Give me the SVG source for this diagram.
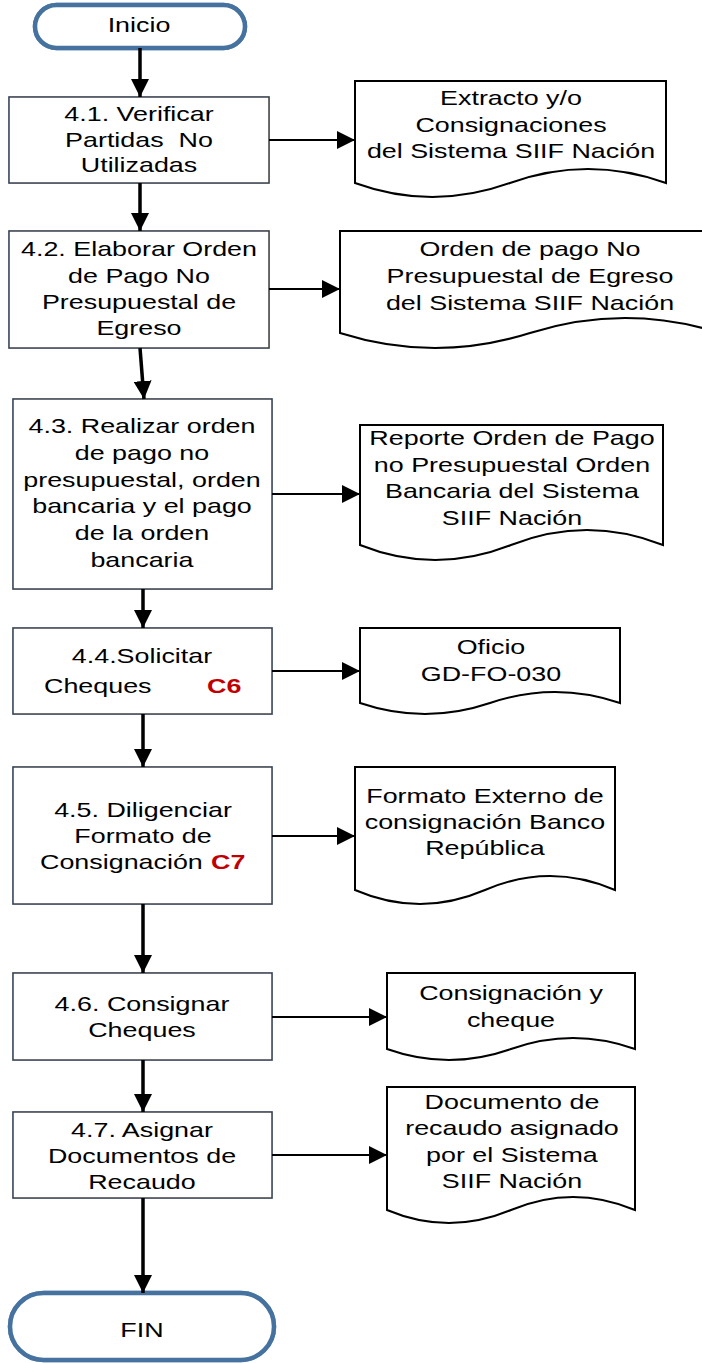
<svg xmlns="http://www.w3.org/2000/svg" width="702" height="1363" viewBox="0 0 702 1363">
<style>
text{font-family:"Liberation Sans",Arial,sans-serif;font-size:21px;fill:#000;text-anchor:middle;transform-box:fill-box;transform-origin:50% 50%;transform:scaleX(1.28)}
.box{fill:#fff;stroke:#404040;stroke-width:1.5;filter:url(#sh)}
.doc{fill:#fff;stroke:#000;stroke-width:2}
.term{fill:#fff;stroke:#44729f;stroke-width:4.5;filter:url(#sh)}
.v{stroke:#000;stroke-width:3.5;fill:none;marker-end:url(#ah)}
.h{stroke:#000;stroke-width:2;fill:none;marker-end:url(#ah)}
text.red{fill:#c00000;font-weight:bold;text-anchor:start;transform-origin:0% 50%}
text.st{text-anchor:start;transform-origin:0% 50%}
</style>
<defs>
<marker id="ah" markerUnits="userSpaceOnUse" markerWidth="18" markerHeight="18" refX="18" refY="9" orient="auto"><path d="M0,0 L18,9 L0,18 z" fill="#000"/></marker>
<filter id="sh" x="-10%" y="-10%" width="125%" height="130%"><feGaussianBlur in="SourceAlpha" stdDeviation="3"/><feOffset dx="2" dy="4"/><feComponentTransfer><feFuncA type="linear" slope="0.22"/></feComponentTransfer><feFlood flood-color="#6f8fc0"/><feComposite operator="in" in2="SourceGraphic"/><feMerge><feMergeNode/><feMergeNode in="SourceGraphic"/></feMerge></filter>
</defs>

<g id="inicio"><rect class="term" x="35" y="5" width="210" height="43" rx="21.5"/><text x="139" y="32">Inicio</text></g>

<g id="n41"><rect class="box" x="9" y="97" width="260" height="86"/>
<text x="139" y="121">4.1. Verificar</text><text x="139" y="147" xml:space="preserve">Partidas  No</text><text x="139" y="172">Utilizadas</text></g>
<g id="d1"><path class="doc" d="M355,81 H666 V183 Q588,155 510,183 T355,183 Z"/>
<text x="511" y="105">Extracto y/o</text><text x="511" y="132">Consignaciones</text><text x="511" y="158">del Sistema SIIF Nación</text></g>

<g id="n42"><rect class="box" x="9" y="231" width="260" height="117"/>
<text x="139" y="256">4.2. Elaborar Orden</text><text x="139" y="283">de Pago No</text><text x="139" y="309">Presupuestal de</text><text x="139" y="335">Egreso</text></g>
<g id="d2"><path class="doc" d="M340,231 H720 V333 Q625,303 530,333 T340,333 Z"/>
<text x="530" y="256">Orden de pago No</text><text x="530" y="283">Presupuestal de Egreso</text><text x="530" y="310">del Sistema SIIF Nación</text></g>

<g id="n43"><rect class="box" x="13" y="399" width="259" height="190"/>
<text x="142" y="433">4.3. Realizar orden</text><text x="142" y="460">de pago no</text><text x="142" y="487">presupuestal, orden</text><text x="142" y="513">bancaria y el pago</text><text x="142" y="540">de la orden</text><text x="142" y="567">bancaria</text></g>
<g id="d3"><path class="doc" d="M360,425 H663 V545 Q587,515 511,545 T360,545 Z"/>
<text x="512" y="445">Reporte Orden de Pago</text><text x="512" y="472">no Presupuestal Orden</text><text x="512" y="498">Bancaria del Sistema</text><text x="512" y="525">SIIF Nación</text></g>

<g id="n44"><rect class="box" x="13" y="628" width="259" height="86"/>
<text x="142" y="663">4.4.Solicitar</text><text class="st" x="44" y="693">Cheques</text><text class="red" x="207" y="693">C6</text></g>
<g id="d4"><path class="doc" d="M360,628 H620 V703 Q555,681 490,703 T360,703 Z"/>
<text x="491" y="654">Oficio</text><text x="491" y="681">GD-FO-030</text></g>

<g id="n45"><rect class="box" x="13" y="767" width="259" height="137"/>
<text x="143" y="817">4.5. Diligenciar</text><text x="143" y="843">Formato de</text><text class="st" x="40" y="869">Consignación</text><text class="red" x="211" y="869">C7</text></g>
<g id="d5"><path class="doc" d="M355,767 H615 V890 Q550,862 485,890 T355,890 Z"/>
<text x="485" y="803">Formato Externo de</text><text x="485" y="829">consignación Banco</text><text x="485" y="855">República</text></g>

<g id="n46"><rect class="box" x="13" y="973" width="259" height="87"/>
<text x="142" y="1011">4.6. Consignar</text><text x="142" y="1037">Cheques</text></g>
<g id="d6"><path class="doc" d="M387,973 H635 V1049 Q573,1027 511,1049 T387,1049 Z"/>
<text x="511" y="1000">Consignación y</text><text x="511" y="1027">cheque</text></g>

<g id="n47"><rect class="box" x="13" y="1112" width="259" height="86"/>
<text x="142" y="1137">4.7. Asignar</text><text x="142" y="1163">Documentos de</text><text x="142" y="1189">Recaudo</text></g>
<g id="d7"><path class="doc" d="M387,1087 H635 V1210 Q573,1184 511,1210 T387,1210 Z"/>
<text x="512" y="1109">Documento de</text><text x="512" y="1135">recaudo asignado</text><text x="512" y="1162">por el Sistema</text><text x="512" y="1188">SIIF Nación</text></g>

<g id="fin"><rect class="term" x="10" y="1293" width="264" height="67" rx="33.5"/><text x="142" y="1337">FIN</text></g>

<g id="connectors">
<path class="v" d="M140,48 V97"/>
<path class="v" d="M140,183 V231"/>
<path class="v" d="M140,348 L144,399"/>
<path class="v" d="M143,589 V628"/>
<path class="v" d="M143,714 V767"/>
<path class="v" d="M143,904 V973"/>
<path class="v" d="M143,1060 V1112"/>
<path class="v" d="M143,1198 V1293"/>
<path class="h" d="M269,140 H355"/>
<path class="h" d="M269,289 H340"/>
<path class="h" d="M272,494 H360"/>
<path class="h" d="M272,671 H360"/>
<path class="h" d="M272,836 H355"/>
<path class="h" d="M272,1017 H387"/>
<path class="h" d="M272,1155 H387"/>
</g>
</svg>
